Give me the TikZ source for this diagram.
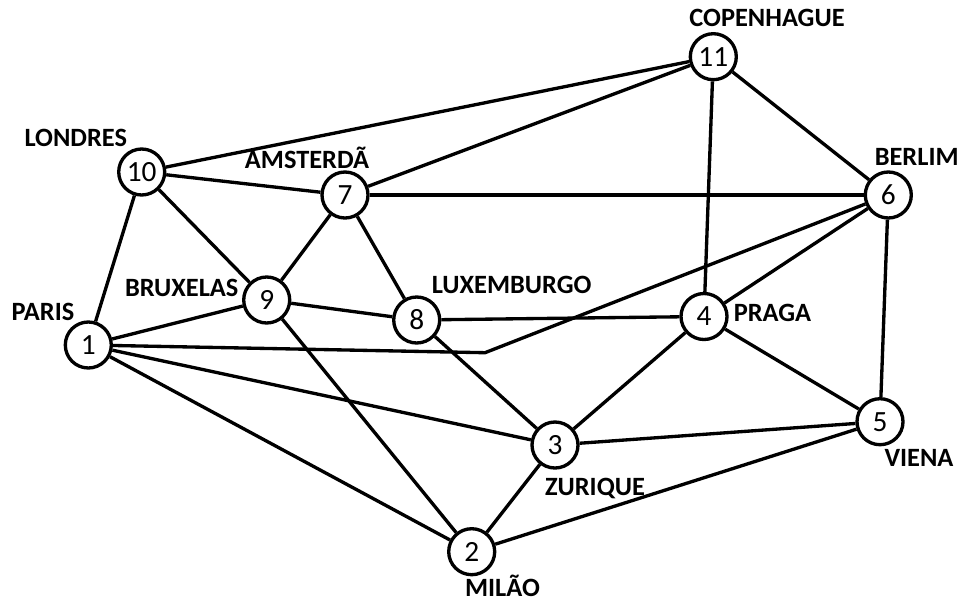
\documentclass[tikz,border=0pt]{standalone}
\usepackage{fontspec}
\setmainfont{Carlito}
\begin{document}
\begin{tikzpicture}[x=0.75pt,y=-0.75pt,
  city/.style={circle,draw,line width=2.5pt,fill=white,minimum size=34.5pt,inner sep=0pt,font=\fontsize{22}{22}\selectfont},
  lbl/.style={anchor=base,inner sep=0pt,font=\fontsize{19.8}{20}\bfseries\selectfont},
  edge/.style={line width=2.5pt}]
\useasboundingbox (0,0) rectangle (967,603);
\node[city] (n1) at (88.3,345) {1};
\node[city] (n2) at (471.7,551.7) {2};
\node[city] (n3) at (555,445) {3};
\node[city] (n4) at (704,316.5) {4};
\node[city] (n5) at (880,421.7) {5};
\node[city] (n6) at (888.3,195) {6};
\node[city] (n7) at (345,195) {7};
\node[city] (n8) at (416.7,320) {8};
\node[city] (n9) at (266.7,300) {9};
\node[city] (n10) at (141.7,172) {10};
\node[city] (n11) at (713.3,56.7) {11};
\coordinate (bend) at (485,352.7);
\node[lbl] (l1) at (43,320.2) {PARIS};
\node[lbl] (l2) at (502.5,596.5) {MILÃO};
\node[lbl] (l3) at (595,495.2) {ZURIQUE};
\node[lbl] (l4) at (772.5,321.5) {PRAGA};
\node[lbl] (l5) at (919,466.5) {VIENA};
\node[lbl] (l6) at (916.7,165.2) {BERLIM};
\node[lbl] (l7) at (307,168.5) {AMSTERDÃ};
\node[lbl] (l8) at (511.7,293.5) {LUXEMBURGO};
\node[lbl] (l9) at (181.7,296.5) {BRUXELAS};
\node[lbl] (l10) at (75.8,146.8) {LONDRES};
\node[lbl] (l11) at (767,26.8) {COPENHAGUE};
\draw[edge] (n10) -- (n11);
\draw[edge] (n10) -- (n7);
\draw[edge] (n10) -- (n9);
\draw[edge] (n10) -- (n1);
\draw[edge] (n11) -- (n7);
\draw[edge] (n11) -- (n6);
\draw[edge] (n11) -- (n4);
\draw[edge] (n7) -- (n6);
\draw[edge] (n7) -- (n9);
\draw[edge] (n7) -- (n8);
\draw[edge] (n9) -- (n1);
\draw[edge] (n9) -- (n8);
\draw[edge] (n9) -- (n2);
\draw[edge] (n8) -- (n4);
\draw[edge] (n8) -- (n3);
\draw[edge] (n1) -- (bend) -- (n6);
\draw[edge] (n1) -- (n3);
\draw[edge] (n1) -- (n2);
\draw[edge] (n4) -- (n6);
\draw[edge] (n4) -- (n3);
\draw[edge] (n4) -- (n5);
\draw[edge] (n6) -- (n5);
\draw[edge] (n3) -- (n5);
\draw[edge] (n3) -- (n2);
\draw[edge] (n2) -- (n5);
\end{tikzpicture}
\end{document}
